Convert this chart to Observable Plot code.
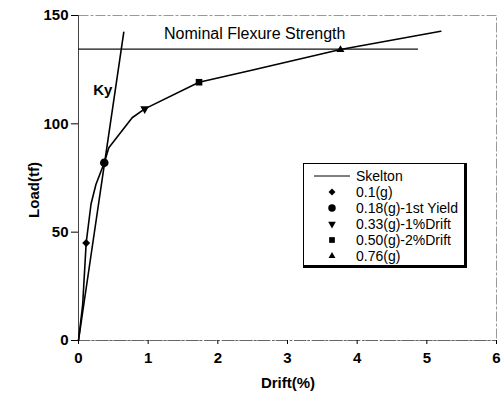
<!DOCTYPE html>
<html>
<head>
<meta charset="utf-8">
<script src="https://cdn.jsdelivr.net/npm/d3@7"></script>
<script src="https://cdn.jsdelivr.net/npm/@observablehq/plot@0.6"></script>
<style>
  html, body { margin: 0; padding: 0; background: #fff; }
  #wrap { position: relative; width: 501px; height: 396px; font-family: "Liberation Sans", Arial, sans-serif; }
  #legend { position: absolute; left: 303px; top: 163px; width: 164px; height: 105px; box-sizing: border-box;
    border: 1px solid #000; border-right-width: 3px; border-bottom-width: 3px; background: #fff; }
  .ytitle { position: absolute; left: 33px; top: 190px; transform: translate(-50%, -50%) rotate(-90deg);
    font-weight: bold; font-size: 15px; white-space: nowrap; }
  .xtitle { position: absolute; left: 288px; top: 382px; transform: translate(-50%, -50%);
    font-weight: bold; font-size: 15px; white-space: nowrap; }
</style>
</head>
<body>
<div id="wrap"></div>
<script>
// Skeleton curve (Drift %, Load tf)
const skelDrift = [0, 0.06, 0.11, 0.18, 0.25, 0.37, 0.435, 0.77, 0.95, 1.73, 2.47, 3.76, 5.2];
const skelLoad  = [0, 16.6, 45, 63, 72, 82, 89, 102.8, 106.9, 119.2, 124.6, 134.3, 142.7];

// Test points
const ptLabels = ["0.1(g)", "0.18(g)-1st Yield", "0.33(g)-1%Drift", "0.50(g)-2%Drift", "0.76(g)"];
const ptDrift  = [0.11, 0.37, 0.95, 1.73, 3.76];
const ptLoad   = [45, 82, 106.9, 119.2, 134.2];
const ptSymbol = ["diamond2", "circle", "triangle2", "square2", "triangle2"];
const ptRotate = [0, 0, 180, 0, 0];
const ptSize   = [3.6, 4.3, 4.2, 4.2, 3.8];

// Ky line
const kyDrift = [0, 0.65];
const kyLoad  = [0, 142.3];
const kyLabel = "Ky";
const kyLabelPos = [0.35, 115.4];

// Nominal flexure strength
const nomLoad = 134.5;
const nomDrift = [0, 4.88];
const nomLabel = "Nominal Flexure Strength";
const nomLabelPos = [2.53, 141.7];

const xTicks = [0, 1, 2, 3, 4, 5, 6];
const yTicks = [0, 50, 100, 150];

const skel = skelDrift.map((d, i) => ({x: d, y: skelLoad[i]}));
const pts = ptDrift.map((d, i) => ({x: d, y: ptLoad[i], s: ptSymbol[i], r: ptRotate[i], sz: ptSize[i], label: ptLabels[i]}));
const ky = kyDrift.map((d, i) => ({x: d, y: kyLoad[i]}));

const font = "Liberation Sans, Arial, sans-serif";

const plot = Plot.plot({
  width: 501,
  height: 396,
  marginLeft: 78,
  marginRight: 5,
  marginTop: 15,
  marginBottom: 56,
  style: {fontFamily: font, fontSize: "15px", color: "#000", background: "#fff"},
  x: {domain: [0, 6], ticks: xTicks, label: null},
  y: {domain: [0, 150], ticks: yTicks, label: null},
  marks: [
    Plot.frame({stroke: "#999", strokeDasharray: "10,2,3,2"}),
    Plot.ruleY([0], {stroke: "#666", strokeDasharray: "12,2,2,2"}),
    Plot.ruleX([0], {stroke: "#444"}),
    Plot.axisX({ticks: xTicks, tickFormat: "d", tickSize: 4, tickPadding: 8, fontSize: 15, fontWeight: "bold"}),
    Plot.axisY({ticks: yTicks, tickFormat: "d", tickSize: 7, tickPadding: 3, fontSize: 15, fontWeight: "bold"}),
    Plot.ruleY([nomLoad], {x1: nomDrift[0], x2: nomDrift[1], stroke: "#111", strokeWidth: 1.2}),
    Plot.text([nomLabel], {x: nomLabelPos[0], y: nomLabelPos[1], text: d => d, fontSize: 16, fill: "#000"}),
    Plot.line(ky, {x: "x", y: "y", stroke: "#000", strokeWidth: 1.6}),
    Plot.text([kyLabel], {x: kyLabelPos[0], y: kyLabelPos[1], text: d => d, fontSize: 15, fontWeight: "bold", fill: "#000"}),
    Plot.line(skel, {x: "x", y: "y", stroke: "#000", strokeWidth: 1.6}),
    ...pts.map(p => Plot.dot([p], {x: "x", y: "y", symbol: p.s, rotate: p.r, r: p.sz, fill: "#000", stroke: "none"}))
  ]
});

const wrap = document.getElementById("wrap");
wrap.appendChild(plot);

// Titles
const yt = document.createElement("div"); yt.className = "ytitle"; yt.textContent = "Load(tf)"; wrap.appendChild(yt);
const xt = document.createElement("div"); xt.className = "xtitle"; xt.textContent = "Drift(%)"; wrap.appendChild(xt);

// Legend
const leg = document.createElement("div"); leg.id = "legend"; wrap.appendChild(leg);
const lsvg = d3.select(leg).append("svg").attr("width", 162).attr("height", 102)
  .style("position", "absolute").style("left", "0").style("top", "0");
const rowY0 = 12, rowDy = 16;
lsvg.append("line").attr("x1", 10).attr("x2", 46).attr("y1", rowY0).attr("y2", rowY0).attr("stroke", "#000").attr("stroke-width", 1);
lsvg.append("text").attr("x", 52).attr("y", rowY0).attr("dy", "0.35em").attr("font-size", 14).attr("font-family", font).text("Skelton");
const symMap = {diamond2: d3.symbolDiamond2, circle: d3.symbolCircle, triangle2: d3.symbolTriangle2, square2: d3.symbolSquare2};
pts.forEach((p, i) => {
  const y = rowY0 + rowDy * (i + 1);
  const area = Math.PI * p.sz * p.sz * 0.75;
  lsvg.append("path").attr("d", d3.symbol(symMap[p.s], area)())
    .attr("transform", `translate(28,${y}) rotate(${p.r})`).attr("fill", "#000");
  lsvg.append("text").attr("x", 52).attr("y", y).attr("dy", "0.35em").attr("font-size", 14).attr("font-family", font).text(p.label);
});
</script>
</body>
</html>
